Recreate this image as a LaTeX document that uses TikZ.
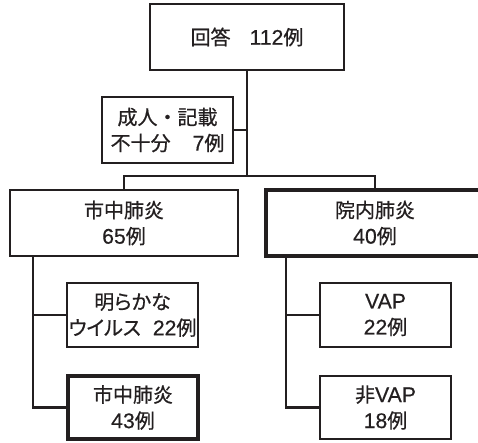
\documentclass[tikz,border=0pt]{standalone}
\usepackage{fontspec}
\setmainfont{Noto Sans CJK JP}[FakeBold=0.7]
\newfontfamily\cjkp{Noto Sans CJK JP}[FakeBold=0.7,RawFeature=+palt]
\newfontfamily\lat{Liberation Sans}[Scale=1.06,FakeBold=0.5]
\newcommand{\n}[1]{{\lat #1}}
\definecolor{ink}{HTML}{231F20}
\begin{document}
\begin{tikzpicture}[x=1pt,y=-1pt,
  box/.style={draw=ink,line width=2pt,inner sep=0pt,align=center,text=ink,
    font=\fontsize{20}{26}\selectfont},
  thickbox/.style={box,line width=3.6pt},
  conn/.style={draw=ink,line width=2.2pt}]
\useasboundingbox (0,0) rectangle (478,442);
\clip (0,0) rectangle (478,442);
\node[box,minimum width=194pt,minimum height=66pt] (top) at (247,37) {回答\hspace{19pt}\n{112}例};
\node[box,minimum width=131pt,minimum height=66pt] (side) at (167.5,130) {成人・記載\\不十分\hspace{22pt}\n{7}例};
\node[box,minimum width=228pt,minimum height=66pt] (L) at (124,223) {市中肺炎\\\n{65}例};
\node[thickbox,minimum width=218pt,minimum height=66pt] (R) at (375,223) {院内肺炎\\\n{40}例};
\node[box,minimum width=131pt,minimum height=64pt] (L1) at (132.5,315) {{\cjkp 明らかな}\\{\cjkp ウイルス}\hspace{12pt}\n{22}例};
\node[thickbox,minimum width=130pt,minimum height=63pt] (L2) at (133,407.5) {市中肺炎\\\n{43}例};
\node[box,minimum width=131pt,minimum height=64pt] (R1) at (385.5,315) {\n{VAP}\\\n{22}例};
\node[box,minimum width=131pt,minimum height=63pt] (R2) at (385.5,407.5) {非\n{VAP}\\\n{18}例};
\coordinate (bar) at (247,176);
\draw[conn] (top.south) -- (bar);
\draw[conn] (side.east) -- (side.east -| bar);
\draw[conn] (L.north) |- (bar) -| (R.north);
\coordinate (lv) at ([xshift=24pt]L.south west);
\coordinate (rv) at ([xshift=22pt]R.south west);
\draw[conn] (lv) |- (L1.west);
\draw[conn] (lv) |- (L2.west);
\draw[conn] (rv) |- (R1.west);
\draw[conn] (rv) |- (R2.west);
\end{tikzpicture}
\end{document}
